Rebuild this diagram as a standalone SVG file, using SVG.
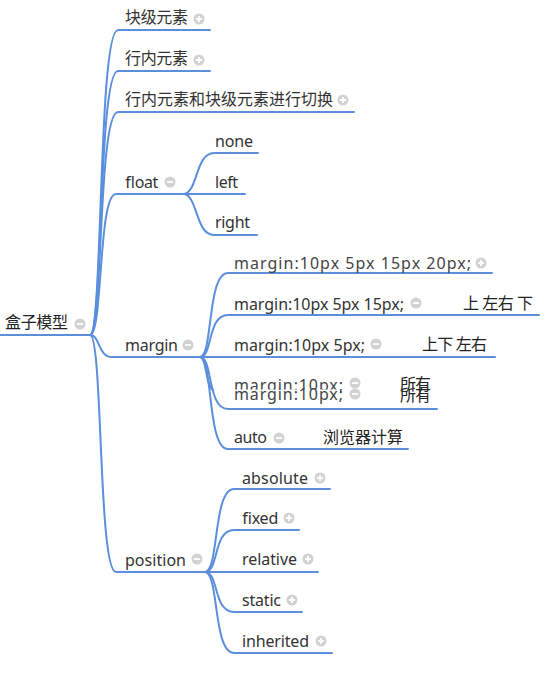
<svg xmlns="http://www.w3.org/2000/svg" width="554" height="675" viewBox="0 0 554 675">
<style>
.t{font-family:"Noto Sans","Noto Sans CJK SC",sans-serif;font-size:16px;fill:#333}
.g{fill:#444}
.k{fill:#222}
.c{fill:none;stroke:#5b8fdc;stroke-width:2;stroke-linecap:round}
</style>
<defs>
<g id="plus"><circle r="5.5" fill="#d2d2d2"/><path d="M-3 0H3M0-3V3" stroke="#fff" stroke-width="1.8"/></g>
<g id="minus"><circle r="5.5" fill="#d2d2d2"/><path d="M-3 0H3" stroke="#fff" stroke-width="1.8"/></g>
</defs>
<rect width="554" height="675" fill="#fff"/>
<g id="connectors">
<path class="c" d="M0 335H90"/>
<path class="c" d="M90 335C103 335 98 30 118 30H210"/>
<path class="c" d="M90 335C103 335 98 71 118 71H210"/>
<path class="c" d="M90 335C103 335 98 112 118 112H354"/>
<path class="c" d="M90 335C103 335 98 194 116 194H183"/>
<path class="c" d="M90 335C100 335 98 357 112 357H200"/>
<path class="c" d="M90 335C103 335 98 572 116 572H205"/>
<path class="c" d="M183 194C198 194 195 153 214 153H258"/>
<path class="c" d="M183 194H245"/>
<path class="c" d="M183 194C198 194 195 235 214 235H257"/>
<path class="c" d="M200 357C213 357 207 273 228 273H492"/>
<path class="c" d="M200 357C213 357 207 315 228 315H539"/>
<path class="c" d="M200 357H495"/>
<path class="c" d="M200 357C207 357 205 385 213 390"/>
<path class="c" d="M200 357C213 357 207 409 228 409H437"/>
<path class="c" d="M200 357C213 357 207 449 228 449H408"/>
<path class="c" d="M205 572C219 572 213 489 234 489H330"/>
<path class="c" d="M205 572C219 572 213 530 234 530H299"/>
<path class="c" d="M205 572H318"/>
<path class="c" d="M205 572C219 572 213 612 234 612H302"/>
<path class="c" d="M205 572C219 572 213 653 234 653H332"/>
</g>
<g id="root"><text class="t k" x="5" y="328" textLength="63">盒子模型</text><use href="#minus" x="80" y="324"/></g>
<g id="n-block"><text class="t" x="125" y="23" textLength="63">块级元素</text><use href="#plus" x="199" y="19"/></g>
<g id="n-inline"><text class="t" x="125" y="64" textLength="63">行内元素</text><use href="#plus" x="199" y="60"/></g>
<g id="n-switch"><text class="t" x="125" y="105" textLength="208">行内元素和块级元素进行切换</text><use href="#plus" x="343" y="100"/></g>
<g id="n-float"><text class="t" x="125" y="188" textLength="33">float</text><use href="#minus" x="170" y="182"/></g>
<g id="n-none"><text class="t" x="215" y="147" textLength="38">none</text></g>
<g id="n-left"><text class="t" x="215" y="188" textLength="23">left</text></g>
<g id="n-right"><text class="t" x="215" y="228" textLength="35">right</text></g>
<g id="n-margin"><text class="t" x="125" y="351" textLength="53">margin</text><use href="#minus" x="188" y="345"/></g>
<g id="n-m4"><text class="t g" x="234" y="269" textLength="237">margin:10px 5px 15px 20px;</text><use href="#plus" x="481" y="263"/></g>
<g id="n-m3"><text class="t" x="234" y="310" textLength="170">margin:10px 5px 15px;</text><use href="#minus" x="416" y="303"/><text class="t k" x="463" y="309" textLength="70">上 左右 下</text></g>
<g id="n-m2"><text class="t" x="234" y="351" textLength="131">margin:10px 5px;</text><use href="#minus" x="376" y="344"/><text class="t k" x="422" y="350" textLength="65">上下 左右</text></g>
<g id="n-m1">
<text class="t g" x="234" y="391" textLength="109">margin:10px;</text>
<use href="#minus" x="355" y="383"/>
<text class="t k" x="400" y="390" textLength="31">所有</text>
<rect x="230" y="389.5" width="110" height="14" fill="#fff"/>
<text class="t g" x="234" y="400" textLength="109">margin:10px;</text>
<use href="#minus" x="355" y="394"/>
<text class="t k" x="400" y="401" textLength="31">所有</text>
</g>
<g id="n-auto"><text class="t" x="234" y="443" textLength="33">auto</text><use href="#minus" x="279" y="438"/><text class="t k" x="323" y="443" textLength="80">浏览器计算</text></g>
<g id="n-position"><text class="t" x="125" y="566" textLength="61">position</text><use href="#minus" x="197" y="559"/></g>
<g id="n-absolute"><text class="t" x="242" y="484" textLength="66">absolute</text><use href="#plus" x="320" y="478"/></g>
<g id="n-fixed"><text class="t" x="242" y="524" textLength="36">fixed</text><use href="#plus" x="289" y="518"/></g>
<g id="n-relative"><text class="t" x="242" y="565" textLength="55">relative</text><use href="#plus" x="308" y="559"/></g>
<g id="n-static"><text class="t" x="242" y="606" textLength="39">static</text><use href="#plus" x="292" y="600"/></g>
<g id="n-inherited"><text class="t" x="242" y="647" textLength="67">inherited</text><use href="#plus" x="321" y="641"/></g>
</svg>
